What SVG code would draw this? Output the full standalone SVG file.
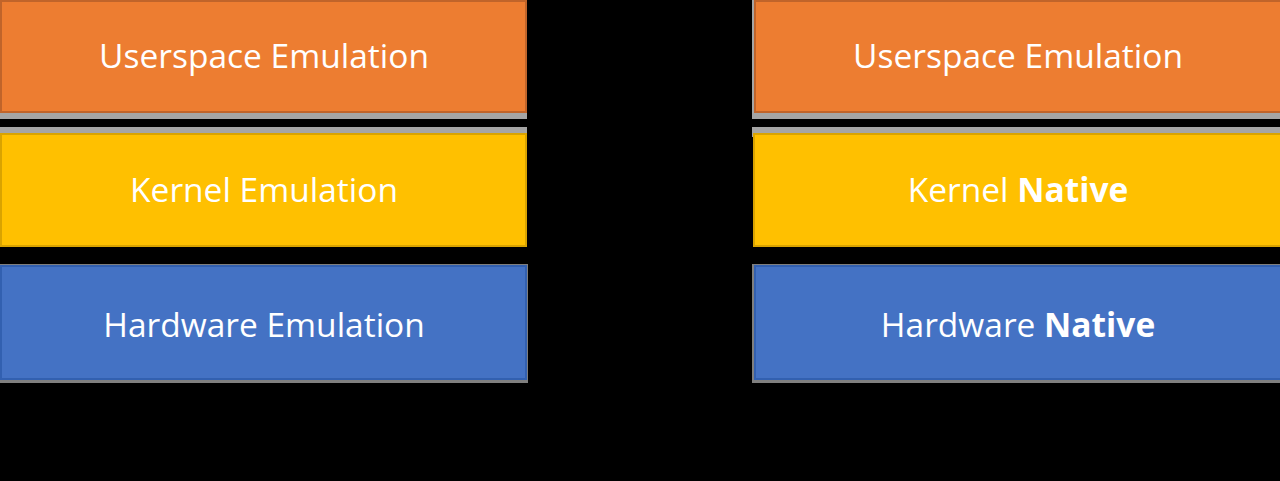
<svg xmlns="http://www.w3.org/2000/svg" width="1280" height="481" viewBox="0 0 1280 481">
<style>
.lbl{font-family:"Open Sans","Noto Sans","Liberation Sans",sans-serif;font-size:33.5px;fill:#ffffff;text-anchor:middle}
.b{font-weight:bold}
.gray{fill:#a5a5a5}
.gray2{fill:#7f7f7f}
.orange{fill:#ed7d31;stroke:#c0642a;stroke-width:2}
.yellow{fill:#ffc000;stroke:#d9a300;stroke-width:2}
.blue{fill:#4472c4;stroke:#3260b0;stroke-width:2}
</style>
<rect x="0" y="0" width="1280" height="481" fill="#000000"/>
<g id="left-userspace">
<rect class="gray" x="0" y="0" width="527" height="119"/>
<rect class="orange" x="1" y="1" width="525" height="111"/>
<text class="lbl" x="264" y="68">Userspace Emulation</text>
</g>
<g id="left-kernel">
<rect class="gray" x="0" y="127" width="527" height="10"/>
<rect class="yellow" x="1" y="134" width="525" height="112"/>
<text class="lbl" x="264" y="202">Kernel Emulation</text>
</g>
<g id="left-hardware">
<rect class="gray2" x="0" y="264" width="528" height="119"/>
<rect class="blue" x="1" y="266" width="525" height="113"/>
<text class="lbl" x="264" y="337">Hardware Emulation</text>
</g>
<g id="right-userspace">
<rect class="gray" x="752" y="0" width="528" height="119"/>
<rect class="orange" x="755" y="1" width="526" height="111"/>
<text class="lbl" x="1018" y="68">Userspace Emulation</text>
</g>
<g id="right-kernel">
<rect class="gray" x="752" y="127" width="528" height="10"/>
<rect class="yellow" x="754" y="134" width="527" height="112"/>
<text class="lbl" x="1018" y="202">Kernel <tspan class="b">Native</tspan></text>
</g>
<g id="right-hardware">
<rect class="gray2" x="752" y="264" width="528" height="119"/>
<rect class="blue" x="755" y="266" width="526" height="113"/>
<text class="lbl" x="1018" y="337">Hardware <tspan class="b">Native</tspan></text>
</g>
<g id="connectors"/>
</svg>
